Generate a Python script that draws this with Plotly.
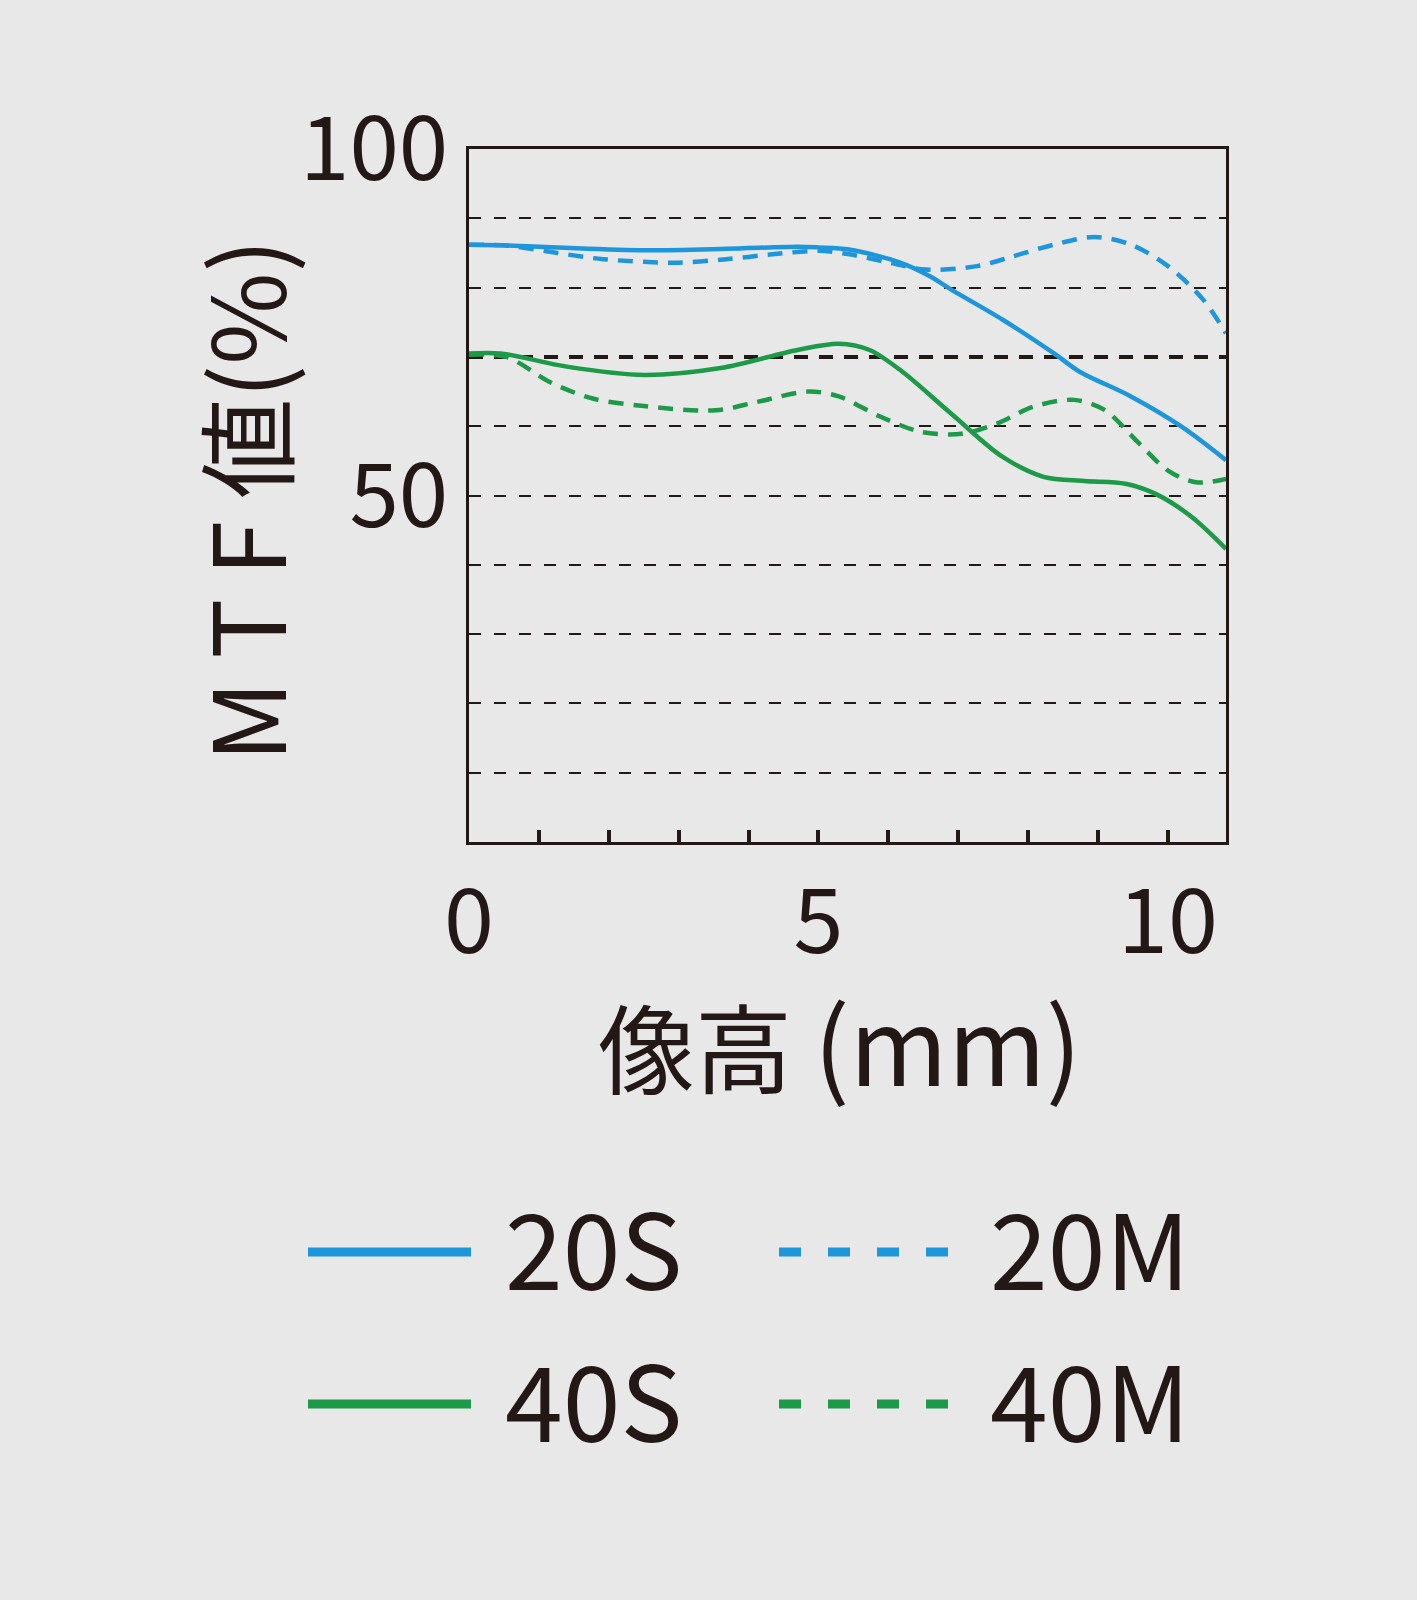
import plotly.graph_objects as go

# ---- data ----
x_20s = [0, 0.5, 1.26, 2.5, 3.68, 4.7, 5.0, 5.44, 6.17, 6.6, 6.9, 7.63, 8.37, 8.73, 9.47, 10.2, 10.83]
y_20s = [86.2, 86.1, 85.8, 85.4, 85.6, 85.9, 85.8, 85.5, 83.6, 81.6, 79.7, 75.4, 70.5, 67.9, 64.3, 59.9, 55.1]

x_20m = [0, 0.6, 1.26, 1.92, 2.94, 3.68, 4.34, 5.0, 5.44, 6.02, 6.53, 7.27, 7.78, 8.37, 8.95, 9.47, 10.0, 10.5, 10.83]
y_20m = [86.2, 86.0, 85.0, 84.1, 83.6, 84.1, 84.8, 85.3, 84.8, 83.6, 82.6, 83.1, 84.5, 86.2, 87.3, 86.2, 83.1, 78.3, 73.4]

x_40s = [0, 0.45, 1.4, 2.5, 3.6, 4.7, 5.29, 5.73, 6.17, 6.9, 7.63, 8.22, 8.8, 9.39, 9.83, 10.34, 10.83]
y_40s = [70.5, 70.5, 68.6, 67.4, 68.4, 71.0, 71.9, 71.0, 68.1, 61.8, 55.6, 52.7, 52.1, 51.7, 50.2, 46.9, 42.3]

x_40m = [0, 0.53, 1.19, 1.77, 2.5, 3.53, 4.12, 4.85, 5.29, 5.88, 6.46, 7.05, 7.56, 8.07, 8.66, 9.1, 9.54, 10.0, 10.4, 10.83]
y_40m = [70.3, 70.0, 66.2, 64.0, 62.9, 62.3, 63.5, 65.0, 64.3, 61.4, 59.2, 58.9, 60.4, 62.8, 63.8, 62.3, 58.0, 53.6, 51.9, 52.4]

series_names = ["20S", "20M", "40S", "40M"]
x_ticks = list(range(0, 11))
x_tick_labels = ["0", "", "", "", "", "5", "", "", "", "", "10"]
y_ticks = list(range(0, 101, 10))
y_tick_labels = ["", "", "", "", "", "50", "", "", "", "", "100"]
x_max = 10.83
ref_level = 70

x_title_main = "像高"
x_title_unit = "(mm)"
y_title_main = "M T F 値"
y_title_unit = "(%)"

# ---- style ----
BG = "#e8e8e8"
INK = "#231815"
BLUE = "#1e96dc"
GREEN = "#1c9a48"
FONT = "Noto Sans CJK JP"

fig = go.Figure()
for xs, ys, name, color, dash in [
    (x_20s, y_20s, series_names[0], BLUE, "solid"),
    (x_20m, y_20m, series_names[1], BLUE, "15px,10px"),
    (x_40s, y_40s, series_names[2], GREEN, "solid"),
    (x_40m, y_40m, series_names[3], GREEN, "15px,10px"),
]:
    fig.add_trace(go.Scatter(
        x=xs, y=ys, name=name, mode="lines",
        line=dict(color=color, width=4.5, dash=dash, shape="spline", smoothing=0.9),
        showlegend=False, cliponaxis=True,
    ))

# reference level line (thicker dashed)
fig.add_shape(type="line", xref="x", yref="y", x0=0, x1=x_max, y0=ref_level, y1=ref_level,
              line=dict(color=INK, width=4, dash="14px,11px"), layer="between")

W, H = 1417, 1600
L, R, T, B = 469, 191, 149, 758
pw, ph = W - L - R, H - T - B

def px(xp):
    return (xp - L) / pw

def py(yp):
    return (H - B - yp) / ph

# legend (drawn manually)
leg_rows = [1252, 1404]
leg_items = [
    (series_names[0], BLUE, "solid", 0, 0),
    (series_names[1], BLUE, "22px,27px", 1, 0),
    (series_names[2], GREEN, "solid", 0, 1),
    (series_names[3], GREEN, "22px,27px", 1, 1),
]
col_line = [(308, 471), (779, 951)]
col_text = [503, 988]
for name, color, dash, c, r in leg_items:
    yv = py(leg_rows[r])
    fig.add_shape(type="line", xref="paper", yref="paper",
                  x0=px(col_line[c][0]), x1=px(col_line[c][1]), y0=yv, y1=yv,
                  line=dict(color=color, width=9, dash=dash))
    fig.add_annotation(xref="paper", yref="paper", x=px(col_text[c]), y=py(leg_rows[r] - 8),
                       text=name, showarrow=False, xanchor="left", yanchor="middle",
                       font=dict(family=FONT, size=104, color=INK))

# axis titles
fig.add_annotation(xref="paper", yref="paper", x=px(840), y=py(1040),
                   text=f"{x_title_main} <span style='font-size:106px'>{x_title_unit}</span>",
                   showarrow=False, xanchor="center", yanchor="middle",
                   font=dict(family=FONT, size=97, color=INK))
fig.add_annotation(xref="paper", yref="paper", x=px(242), y=py(501),
                   text=f"{y_title_main}{y_title_unit}",
                   showarrow=False, xanchor="center", yanchor="middle", textangle=-90,
                   font=dict(family=FONT, size=100, color=INK))

fig.update_layout(
    width=W, height=H,
    margin=dict(l=L, r=R, t=T, b=B, pad=0),
    paper_bgcolor=BG, plot_bgcolor=BG,
    font=dict(family=FONT, color=INK),
    showlegend=False,
)
fig.update_xaxes(
    range=[0, x_max], tickmode="array", tickvals=x_ticks, ticktext=x_tick_labels,
    ticks="inside", ticklen=12, tickwidth=4, tickcolor=INK,
    showgrid=False, zeroline=False,
    showline=True, mirror=True, linewidth=3, linecolor=INK,
    tickfont=dict(family=FONT, size=90, color=INK), ticklabelstandoff=0,
)
fig.update_yaxes(
    range=[0, 100], tickmode="array", tickvals=y_ticks, ticktext=y_tick_labels,
    ticks="", ticklen=0, showgrid=True, gridcolor=INK, gridwidth=2, griddash="12px,13px",
    zeroline=False, showline=True, mirror=True, linewidth=3, linecolor=INK,
    tickfont=dict(family=FONT, size=89, color=INK), ticklabelstandoff=0,
)

fig.write_html("out.html", config={"displayModeBar": False},
               post_script="document.body.style.margin='0';document.body.style.padding='0';"
                           "document.body.style.background='" + BG + "';")
